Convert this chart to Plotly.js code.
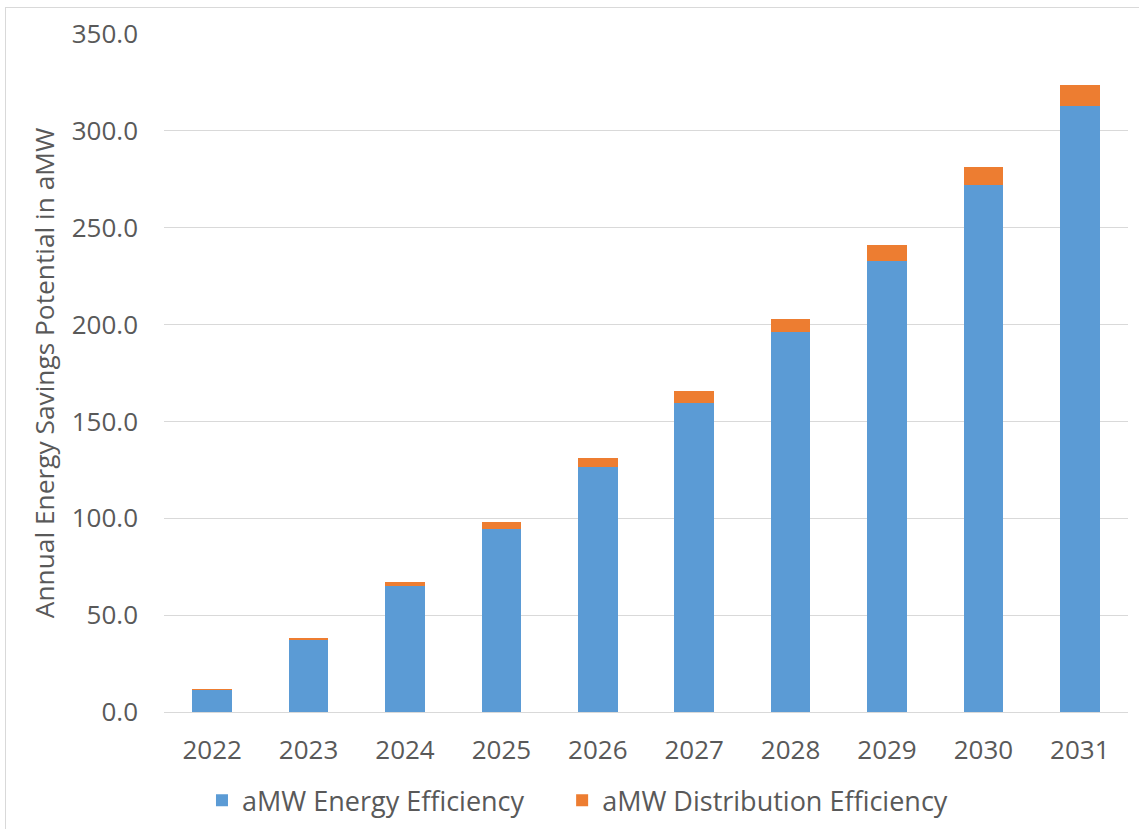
<!DOCTYPE html>
<html>
<head>
<meta charset="utf-8">
<script src="https://cdn.plot.ly/plotly-3.0.1.min.js"></script>
<style>
  html, body { margin: 0; padding: 0; background: #ffffff; }
  #wrap { position: relative; width: 1139px; height: 829px; overflow: hidden; }
  #frame { position: absolute; left: 5px; top: 7px; width: 1200px; height: 900px;
           border-left: 1px solid #d9d9d9; border-top: 1px solid #d9d9d9; pointer-events: none; }
  #chart { position: absolute; left: 0; top: 0; width: 1139px; height: 829px; }
</style>
</head>
<body>
<div id="wrap">
  <div id="chart"></div>
  <div id="frame"></div>
</div>
<script>
const years = ["2022", "2023", "2024", "2025", "2026", "2027", "2028", "2029", "2030", "2031"];
const energyEfficiency = [11.4, 37.0, 65.3, 94.7, 126.4, 159.5, 196.1, 233.0, 271.9, 312.9];
const distributionEfficiency = [0.3, 1.3, 1.7, 3.6, 4.7, 6.0, 6.9, 8.1, 9.5, 10.6];
const seriesNames = ["aMW Energy Efficiency", "aMW Distribution Efficiency"];
const yTickValues = [0, 50, 100, 150, 200, 250, 300, 350];
const yAxisTitle = "Annual Energy Savings Potential in aMW";

const fontFamily = "'Open Sans', 'Noto Sans', sans-serif";
const textColor = "#595959";

const traces = [
  {
    type: "bar", name: seriesNames[0], x: years, y: energyEfficiency,
    marker: { color: "#5B9BD5" }, hoverinfo: "x+y+name", legend: "legend"
  },
  {
    type: "bar", name: seriesNames[1], x: years, y: distributionEfficiency,
    marker: { color: "#ED7D31" }, hoverinfo: "x+y+name", legend: "legend2"
  }
];

const legendFont = { family: fontFamily, color: textColor, size: 27 };

const layout = {
  width: 1139, height: 829,
  barmode: "stack",
  bargap: 0.59,
  paper_bgcolor: "#ffffff",
  plot_bgcolor: "#ffffff",
  margin: { l: 164, r: 11, t: 34, b: 117, pad: 0, autoexpand: false },
  font: { family: fontFamily, color: textColor, size: 26 },
  showlegend: true,
  legend: {
    orientation: "h", x: 0.0394, xanchor: "left", y: -0.131, yanchor: "middle",
    font: legendFont, itemwidth: 30, bgcolor: "rgba(0,0,0,0)"
  },
  legend2: {
    orientation: "h", x: 0.413, xanchor: "left", y: -0.131, yanchor: "middle",
    font: legendFont, itemwidth: 30, bgcolor: "rgba(0,0,0,0)"
  },
  xaxis: {
    type: "category",
    showgrid: false, showline: false, zeroline: false,
    ticks: "", ticklabelstandoff: 20,
    tickfont: { family: fontFamily, color: textColor, size: 26 },
    automargin: false
  },
  yaxis: {
    range: [0, 350],
    tickvals: yTickValues,
    tickformat: ".1f",
    showgrid: true, gridcolor: "#d9d9d9", gridwidth: 1,
    zeroline: true, zerolinecolor: "#d9d9d9", zerolinewidth: 1,
    showline: false, ticks: "",
    ticklabelstandoff: 25,
    tickfont: { family: fontFamily, color: textColor, size: 26 },
    title: { text: yAxisTitle, standoff: 9, font: { family: fontFamily, color: textColor, size: 26.3 } },
    automargin: false
  }
};

Plotly.newPlot("chart", traces, layout, { displayModeBar: false, staticPlot: true });
</script>
</body>
</html>
